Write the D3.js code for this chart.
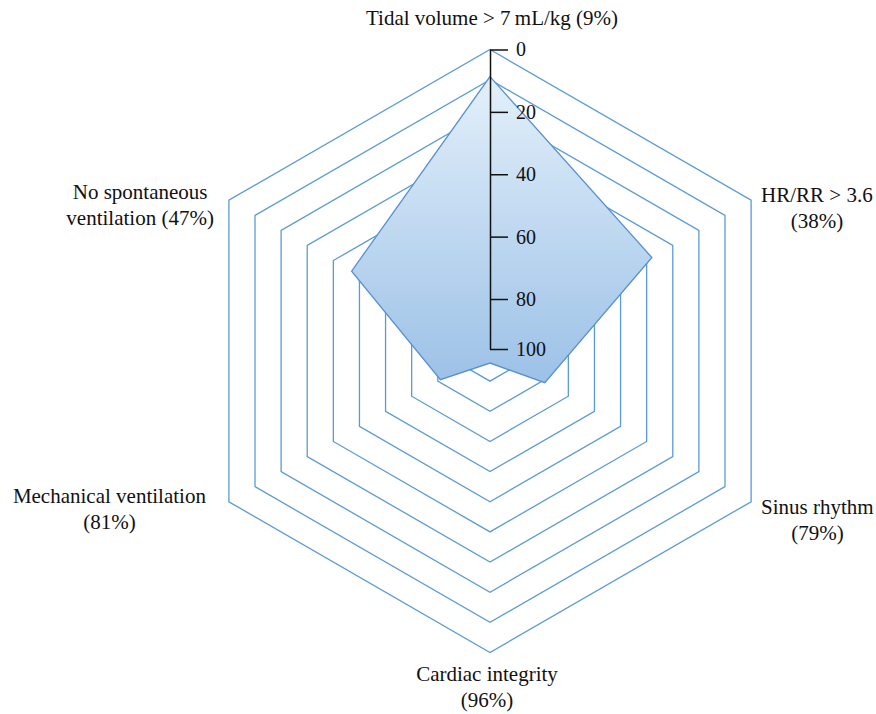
<html>
	<head>
		<title></title>
		<script type="text/javascript" src="https://cdnjs.cloudflare.com/ajax/libs/d3/7.8.5/d3.min.js"></script>
		<style>
			body {
				margin: 0;
				background-color: #ffffff;
			}
			text {
				font-family: "Liberation Serif", "DejaVu Serif", serif;
				fill: #111111;
			}
		</style>
	</head>
	<body>
		<div id="chart"></div>

		<script>

			//Chart data
			var categories = ["Tidal volume > 7 mL/kg", "HR/RR > 3.6", "Sinus rhythm", "Cardiac integrity", "Mechanical ventilation", "No spontaneous ventilation"];
			var percents = [9, 38, 79, 96, 81, 47];
			var labelLines = [
				["Tidal volume > 7\u2009mL/kg (9%)"],
				["HR/RR > 3.6", "(38%)"],
				["Sinus rhythm", "(79%)"],
				["Cardiac integrity", "(96%)"],
				["Mechanical ventilation", "(81%)"],
				["No spontaneous", "ventilation (47%)"]
			];
			var tickValues = [0, 20, 40, 60, 80, 100];
			var gridValues = [0, 10, 20, 30, 40, 50, 60, 70, 80, 90];

			//Canvas dimensions
			var canvasWidth = 876;
			var canvasHeight = 714;

			//Radar centre and outer radius
			var cx = 490;
			var cy = 351;
			var R = 301.5;

			var canvas = d3.select("#chart").append("svg")
									.attr("width", canvasWidth)
									.attr("height", canvasHeight);

			//Reversed radial scale: 0 on the outside, 100 in the middle
			var rScale = d3.scaleLinear().domain([0, 100]).range([R, 0]);
			var angleScale = d3.scaleLinear().domain([0, categories.length]).range([0, 2 * Math.PI]);

			//Gradient fill for the area
			var grad = canvas.append("defs").append("linearGradient")
									.attr("id", "areaFill")
									.attr("x1", 0).attr("y1", 0)
									.attr("x2", 0).attr("y2", 1);
			grad.append("stop").attr("offset", "0%").attr("stop-color", "#e3f0fa");
			grad.append("stop").attr("offset", "100%").attr("stop-color", "#9cc1e7");

			var plot = canvas.append("g").attr("transform", "translate(" + cx + "," + cy + ")");

			//Hexagonal grid lines
			gridValues.forEach(function(g){
				var gridLine = d3.lineRadial()
								.angle(function(d, i){ return angleScale(i); })
								.radius(rScale(g))
								.curve(d3.curveLinearClosed);
				plot.append("path")
						.attr("d", gridLine(categories))
						.attr("fill", "none")
						.attr("stroke", "#5b9bd5")
						.attr("stroke-width", 1.3);
			});

			//Data area
			var area = d3.lineRadial()
							.angle(function(d, i){ return angleScale(i); })
							.radius(function(d){ return rScale(d); })
							.curve(d3.curveLinearClosed);
			plot.append("path")
					.attr("d", area(percents))
					.attr("fill", "url(#areaFill)")
					.attr("stroke", "#5890d0")
					.attr("stroke-width", 1.3)
					.attr("stroke-linejoin", "miter");

			//Value axis on the top spoke (the printed axis squeezes its last step)
			var yScale = d3.scaleLinear().domain([0, 80, 100]).range([49.5, 299, 349]);
			var axis = canvas.append("g")
							.attr("transform", "translate(" + cx + ",0)")
							.call(d3.axisRight(yScale).tickValues(tickValues).tickSize(18).tickSizeOuter(0).tickPadding(8));
			axis.attr("font-family", null).attr("font-size", null);
			axis.select(".domain").attr("stroke", "#111").attr("stroke-width", 1.5);
			axis.selectAll(".tick line").attr("stroke", "#111").attr("stroke-width", 1.5);
			axis.selectAll(".tick text").style("font-size", "20px").attr("fill", "#111");

			//Category labels, offsets relative to the outer vertex
			var labelOffset = [
				{side: "mid", dx: 2, dy: -25},
				{side: "right", dx: 10, dy: 2},
				{side: "right", dx: 10, dy: 12},
				{side: "mid", dx: -3, dy: 28},
				{side: "left", dx: -23, dy: 1},
				{side: "left", dx: -15, dy: -1}
			];
			var lineHeight = 26;

			labelLines.forEach(function(lines, i){
				var a = angleScale(i);
				var vx = cx + R * Math.sin(a);
				var vy = cy - R * Math.cos(a);
				var off = labelOffset[i];
				var label = canvas.append("text")
								.attr("text-anchor", "middle")
								.style("font-size", "21px");
				var spans = label.selectAll("tspan").data(lines).enter().append("tspan")
								.attr("y", function(d, k){ return vy + off.dy + k * lineHeight; })
								.text(function(d){ return d; });
				var w = d3.max(spans.nodes(), function(n){ return n.getComputedTextLength(); });
				var x = vx + off.dx;
				if(off.side == "right") x = vx + off.dx + w / 2;
				if(off.side == "left") x = vx + off.dx - w / 2;
				spans.attr("x", x);
			});

		</script>
	</body>
</html>
